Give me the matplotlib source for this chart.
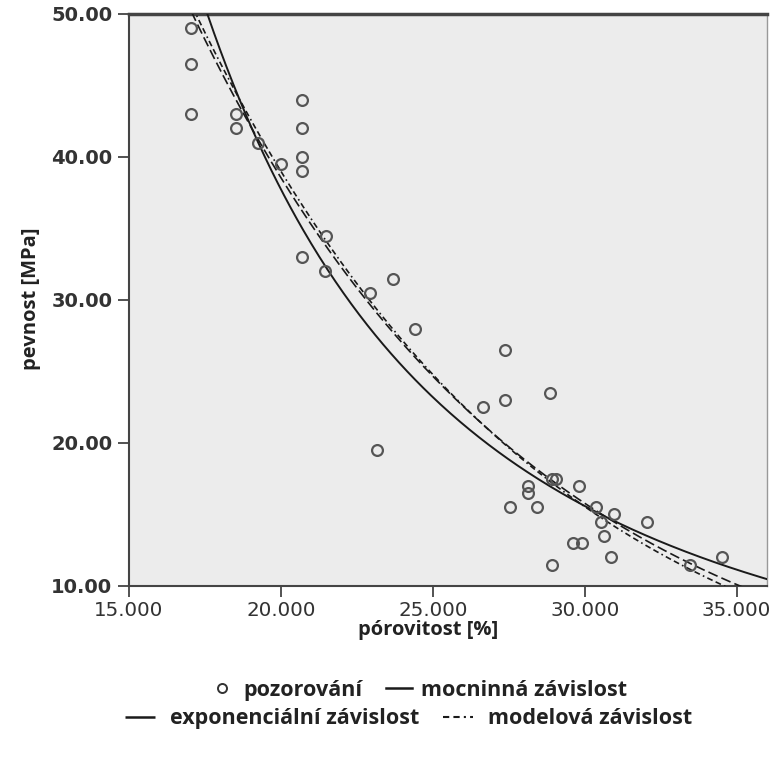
import numpy as np
import matplotlib.pyplot as plt
from matplotlib.lines import Line2D

# porosity [%] and strength [MPa] of the samples
porosity = [17.03, 17.03, 17.03, 18.51, 18.51, 19.25, 19.99, 20.71, 20.71, 20.71,
            20.71, 21.48, 20.71, 21.45, 23.69, 22.93, 24.42, 23.17, 27.39, 27.39,
            26.65, 28.87, 28.93, 29.05, 28.12, 28.12, 27.53, 28.43, 29.81, 30.36,
            30.95, 30.54, 32.05, 30.63, 29.62, 29.92, 30.86, 28.93, 34.53, 33.48]
strength = [49.0, 46.5, 43.0, 43.0, 42.0, 41.0, 39.5, 44.0, 42.0, 40.0,
            39.0, 34.5, 33.0, 32.0, 31.5, 30.5, 28.0, 19.5, 26.5, 23.0,
            22.5, 23.5, 17.5, 17.5, 17.0, 16.5, 15.5, 15.5, 17.0, 15.5,
            15.0, 14.5, 14.5, 13.5, 13.0, 13.0, 12.0, 11.5, 12.0, 11.5]

# fitted curve coefficients
power_a, power_b = 25887.0, -2.18          # y = a * x^b
exp_a, exp_k = 230.0, 0.0893               # y = a * exp(-k x)
model_a, model_x0, model_n = 212.5, 200.0, 16.09   # y = a * (1 - x/x0)^n

x_ticks = [15, 20, 25, 30, 35]
y_ticks = [10, 20, 30, 40, 50]

fig = plt.figure(figsize=(7.71, 7.67), dpi=100)
ax = fig.add_axes([0.1673, 0.236, 0.8275, 0.7458])
ax.set_facecolor("#ececec")

xs = np.linspace(15, 36, 400)
ax.plot(xs, power_a * xs ** power_b, color="#1a1a1a", lw=1.4, zorder=3)
ax.plot(xs, exp_a * np.exp(-exp_k * xs), color="#1a1a1a", lw=1.2,
        dashes=(6, 2.5), zorder=3)
ax.plot(xs, model_a * (1 - xs / model_x0) ** model_n, color="#1a1a1a", lw=1.2,
        dashes=(3.5, 2, 3.5, 2, 1, 2), zorder=3)
ax.plot(porosity, strength, "o", mfc="none", mec="#555555", ms=7.8, mew=1.6,
        zorder=4)

ax.set_xlim(15, 36)
ax.set_ylim(10, 50)
ax.set_xticks(x_ticks)
ax.set_yticks(y_ticks)
ax.set_xticklabels(["%.3f" % v for v in x_ticks])
ax.set_yticklabels(["%.2f" % v for v in y_ticks])
ax.tick_params(direction="out", length=8, width=1.3, color="#444444",
               labelcolor="#333333", pad=4)
ax.tick_params(axis="y", labelsize=14)
ax.tick_params(axis="x", labelsize=14.3, pad=3)
for lab in ax.get_yticklabels():
    lab.set_fontweight("bold")

ax.spines["top"].set_linewidth(2.5)
ax.spines["top"].set_color("#444444")
for side in ["left", "bottom"]:
    ax.spines[side].set_linewidth(1.5)
    ax.spines[side].set_color("#444444")
ax.spines["right"].set_linewidth(1.0)
ax.spines["right"].set_color("#999999")

fig.text(0.555, 0.178, "pórovitost [%]", ha="center", va="center",
         fontsize=14.5, fontweight="bold", family="Open Sans", color="#222222")
fig.text(0.04, 0.61, "pevnost [MPa]", ha="center", va="center", rotation=90,
         fontsize=14.5, fontweight="bold", family="Open Sans", color="#222222")

h_obs = Line2D([], [], ls="none", marker="o", mfc="none", mec="#333333",
               ms=6.5, mew=1.4)
h_pow = Line2D([], [], color="#1a1a1a", lw=1.8)
h_exp = Line2D([], [], color="#1a1a1a", lw=1.8, dashes=(12, 3))
h_mod = Line2D([], [], color="#1a1a1a", lw=1.5, dashes=(3, 2, 3, 2, 1, 2))

leg_font = {"family": "Open Sans", "weight": "bold", "size": 15.5}
leg1 = fig.legend([h_obs, h_pow], ["pozorování", "mocninná závislost"],
                  loc="center", bbox_to_anchor=(0.542, 0.100), ncol=2,
                  frameon=False, prop=leg_font, handlelength=1.2,
                  handletextpad=0.4, columnspacing=1.1)
leg2 = fig.legend([h_exp, h_mod], ["exponenciální závislost", "modelová závislost"],
                  loc="center", bbox_to_anchor=(0.53, 0.063), ncol=2,
                  frameon=False, prop=leg_font, handlelength=1.4,
                  handletextpad=0.7, columnspacing=1.1)
for leg in (leg1, leg2):
    for t in leg.get_texts():
        t.set_color("#222222")

fig.savefig("out.png", dpi=100)
plt.close(fig)
